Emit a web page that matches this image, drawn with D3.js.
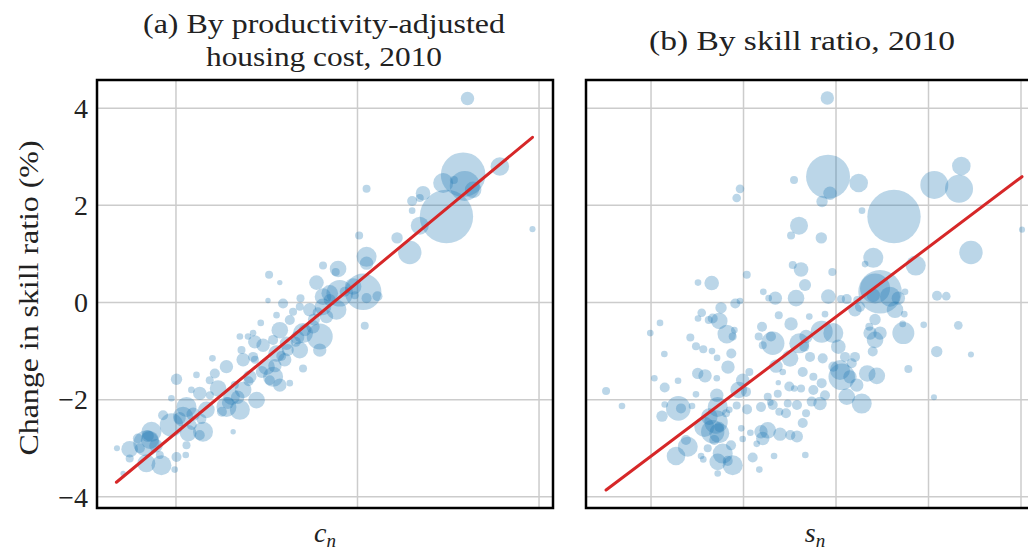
<!DOCTYPE html>
<html>
<head>
<meta charset="utf-8">
<script src="https://cdn.jsdelivr.net/npm/d3@7"></script>
<style>
  body { margin: 0; background: white; }
  svg { display: block; }
</style>
</head>
<body>
<svg id="chart" width="1028" height="552"></svg>
<script>
// [cost index c_n, change in skill ratio (%), population (m)]
const pointsA = [
  [-1.325,-3.00,0.24],[-1.255,-3.02,1.81],[-1.163,-2.90,4.44],[-1.144,-2.83,2.13],[-1.135,-2.66,2.63],
  [-1.163,-3.31,2.13],[-1.080,-3.35,2.63],[-1.291,-3.52,0.19],[-1.255,-3.21,0.42],[-1.071,-2.32,0.66],
  [-1.025,-1.97,0.29],[-0.997,-1.58,0.85],[-0.997,-3.18,0.66],[-0.946,-3.14,0.29],[-1.007,-3.44,0.29],
  [-1.025,-2.52,3.59],[-0.961,-2.35,2.63],[-0.942,-2.15,2.63],[-0.869,-2.73,0.66],[-0.851,-2.66,2.63],
  [-0.933,-2.69,1.81],[-0.942,-2.94,0.42],[-0.887,-1.49,0.29],[-0.915,-1.80,0.29],[-0.869,-1.87,1.18],
  [-0.832,-2.21,1.81],[-0.814,-1.60,0.42],[-0.786,-1.46,0.66],[-0.799,-1.15,0.29],[-0.768,-1.77,1.81],
  [-0.722,-1.32,1.18],[-0.722,-2.15,2.63],[-0.685,-2.66,0.19],[-0.694,-1.94,1.81],[-0.648,-2.21,2.63],
  [-0.630,-1.80,1.81],[-0.556,-2.01,1.81],[-0.593,-1.53,1.18],[-0.630,-1.18,1.18],[-0.639,-0.98,0.42],
  [-0.575,-1.12,0.66],[-0.603,-0.70,0.29],[-0.648,-0.70,0.29],[-0.566,-0.81,1.18],[-0.575,-0.63,0.29],
  [-0.533,-0.42,0.29],[-0.520,-0.88,1.18],[-0.501,-1.32,1.81],[-0.465,-1.53,2.63],[-0.428,-1.70,1.18],
  [-0.446,-1.05,1.81],[-0.401,-1.18,1.18],[-0.391,-0.84,1.18],[-0.465,-0.77,0.66],[-0.428,-0.57,1.81],
  [-0.446,-0.26,0.29],[-0.410,-0.02,0.66],[-0.373,-0.36,0.66],[-0.355,-0.19,0.42],[-0.318,-0.09,0.42],
  [-0.300,-0.63,2.63],[-0.300,-1.36,0.42],[-0.373,-1.66,0.29],[-0.318,-0.98,1.81],[-0.245,-0.50,1.18],
  [-0.263,-0.15,1.18],[-0.208,-0.70,4.44],[-0.208,-0.98,1.18],[-0.190,-0.09,1.81],[-0.171,-0.29,1.18],
  [0.050,2.34,0.42],[0.009,1.38,0.42],[0.050,0.94,2.63],[0.050,0.81,1.18],[-0.190,0.76,0.42],
  [-0.107,0.69,1.81],[-0.120,0.63,0.42],[-0.487,0.57,0.42],[-0.428,0.41,0.19],[-0.226,0.41,1.40],
  [0.031,0.22,8.79],[-0.098,0.19,4.64],[-0.153,0.19,1.81],[-0.024,0.33,1.81],[0.110,0.13,0.66],
  [0.050,0.09,0.66],[-0.015,0.15,0.42],[-0.190,0.12,1.81],[-0.314,0.09,0.42],[-0.493,0.04,0.19],
  [-0.116,-0.15,2.63],[0.040,-0.48,0.42],
  [0.606,4.20,1.18],[0.582,2.63,13.1],[0.591,2.40,5.91],[0.637,2.32,1.81],[0.472,2.46,2.63],
  [0.531,2.52,0.42],[0.784,2.80,2.27],[0.361,2.25,1.40],[0.301,2.09,0.66],[0.343,2.15,0.42],
  [0.301,1.89,0.29],[0.490,1.77,18.7],[0.343,1.58,2.13],[0.218,1.33,0.85],[0.288,1.03,3.59],
  [0.964,1.51,0.24],
  [-1.155,-2.75,0.95],[-1.199,-3.00,0.66],[-0.979,-2.38,0.95],[-0.913,-2.52,0.66],[-0.714,-2.07,0.95],
  [-0.747,-2.25,0.66],[-0.527,-1.43,0.95],[-0.483,-1.60,0.66],[-0.384,-0.98,0.95],[-0.340,-0.81,0.66],
  [-0.290,-0.57,0.95],[-0.219,-0.20,0.66],[-0.153,0.05,0.95],[-0.070,0.22,0.66],[-0.676,-1.70,0.42],
  [-0.813,-1.91,0.42],[-1.089,-3.14,0.42],[-0.565,-1.18,0.42],
  [-1.110,-2.95,1.18],[-0.905,-2.30,1.18],[-0.660,-1.95,1.18],[-0.455,-1.30,1.18],[-0.330,-0.72,1.18],
  [-0.240,-0.35,0.95],[-1.210,-2.80,0.66],[-0.860,-2.40,0.66],[-0.600,-1.62,0.66],[-0.420,-1.10,0.66]
];

// [skill index s_n, change in skill ratio (%), population (m)]
const pointsB = [
  [-2.486,-1.82,0.42],[-2.314,-2.13,0.29],[-2.008,-0.63,0.29],[-1.903,-0.42,0.29],[-1.856,-1.06,0.29],
  [-1.964,-1.56,0.29],[-1.852,-1.75,0.66],[-1.708,-1.61,0.29],[-1.852,-2.10,0.29],[-1.881,-2.34,0.85],
  [-1.705,-2.18,3.97],[-1.676,-2.18,0.66],[-1.557,-2.13,0.29],[-1.514,-1.89,0.29],[-1.730,-3.16,2.27],
  [-1.603,-2.97,2.63],[-1.622,-2.83,0.66],[-1.459,-3.16,0.29],[-1.435,-3.23,0.29],[-1.495,-1.46,0.85],
  [-1.416,-1.51,1.18],[-1.289,-1.56,0.29],[-1.575,-0.72,0.42],[-1.514,-0.90,0.42],[-1.435,-0.96,0.42],
  [-1.341,-1.00,0.29],[-1.286,-1.14,0.29],[-1.492,0.41,0.29],[-1.344,0.40,1.40],[-1.452,-0.21,0.49],
  [-1.492,-0.33,0.29],[-1.376,-0.36,0.42],[-1.333,-0.33,0.66],[-1.262,-0.38,1.81],[-1.243,-0.11,0.85],
  [-1.181,-0.65,2.27],[-1.117,-0.70,0.42],[-1.099,-0.57,0.29],[-1.132,-1.05,0.66],[-1.168,-1.33,1.18],
  [-1.089,-0.02,0.66],[-1.038,0.03,0.29],[-0.965,0.57,0.42],[-1.289,-1.91,1.18],[-1.279,-2.15,2.63],
  [-1.370,-2.35,1.81],[-1.297,-2.46,3.59],[-1.333,-2.66,3.59],[-1.262,-2.69,2.63],[-1.424,-2.56,2.63],
  [-1.262,-2.56,0.66],[-1.189,-2.28,0.42],[-1.154,-2.21,0.29],[-1.387,-3.00,0.42],[-1.316,-2.83,0.66],
  [-1.225,-3.11,2.63],[-1.135,-2.94,0.66],[-1.117,-3.35,2.63],[-1.171,-3.26,0.66],[-1.279,-3.52,0.29],
  [-1.279,-3.28,1.81],[-1.074,-2.12,0.42],[-1.052,-1.80,1.81],[-1.009,-1.60,1.18],[-0.937,-1.43,0.42],
  [-0.973,-1.84,0.66],[-0.962,-2.20,0.66],[-1.024,-2.59,0.29],[-1.009,-2.81,0.29],[-0.926,-2.68,0.29],
  [-0.901,-3.19,0.66],[-0.829,-3.44,0.29],[-0.857,-2.91,0.29],[-0.811,-2.66,1.18],[-0.792,-2.80,1.18],
  [-0.738,-2.63,1.81],[-0.670,-3.16,0.29],[-0.605,-2.71,1.18],[-0.494,-2.73,0.66],[-0.422,-2.76,0.95],
  [-0.332,-3.14,0.29],[-0.811,-2.15,0.66],[-0.738,-1.94,0.42],[-0.684,-2.11,0.66],[-0.630,-1.88,0.42],
  [-0.710,-2.06,0.29],[-0.613,-2.25,0.42],[-0.541,-2.28,0.66],[-0.522,-2.08,0.42],[-0.422,-2.11,0.66],
  [-0.360,-2.48,0.66],[-0.324,-2.28,0.42],[-0.505,-1.73,0.66],[-0.451,-1.77,0.29],[-0.378,-1.77,0.42],
  [-0.624,-1.65,0.19],[-0.649,-1.31,1.18],[-0.576,-1.43,0.29],[-0.497,-1.15,1.81],[-0.360,-1.43,0.66],
  [-0.684,-0.84,3.59],[-0.703,-0.70,0.66],[-0.792,-0.88,0.42],[-0.836,-0.70,0.42],[-0.800,-0.50,0.66],
  [-0.619,-0.26,0.42],[-0.486,-0.44,1.18],[-0.786,0.22,0.29],[-0.656,0.09,1.18],[-0.728,0.09,0.29],
  [-0.432,0.09,1.81],[-0.378,0.68,1.40],[-0.468,0.77,0.42],[-0.335,0.36,0.95],[-0.397,-0.84,2.63],
  [-0.324,-0.70,1.18],[-0.289,-0.29,0.29],[-0.343,-0.91,0.66],[-1.038,2.34,0.49],[-1.074,2.15,0.49],
  [-0.094,4.21,1.18],[-0.086,2.59,12.7],[-0.454,2.52,0.42],[0.245,2.46,2.27],[-0.065,2.25,1.18],
  [-0.151,2.08,0.85],[0.281,1.89,0.29],[0.627,1.77,18.7],[1.063,2.42,5.15],[1.330,2.34,5.15],
  [1.355,2.81,2.27],[2.011,1.50,0.24],[-0.400,1.58,2.13],[-0.486,1.38,0.42],[-0.159,1.33,0.85],
  [0.403,0.92,2.63],[0.314,0.79,0.29],[0.862,0.76,2.63],[1.459,1.03,3.59],[-0.040,0.63,0.42],
  [-0.083,0.12,1.40],[0.054,0.07,0.42],[0.116,0.07,0.66],[0.476,0.22,12.4],[0.422,0.29,5.91],
  [0.403,0.15,1.18],[0.584,0.12,2.63],[0.674,0.09,1.18],[0.746,0.22,0.29],[0.638,-0.15,1.81],
  [0.205,-0.15,1.18],[0.259,-0.09,0.66],[0.230,0.05,0.42],[1.092,0.14,0.66],[1.192,0.13,0.49],
  [0.738,-0.24,0.29],[0.422,-0.35,0.85],[0.360,-0.50,0.42],[0.368,-0.63,1.18],[0.476,-0.63,1.18],
  [0.422,-0.77,1.81],[0.728,-0.63,3.18],[0.721,-0.44,0.29],[0.948,-0.46,0.29],[1.322,-0.47,0.49],
  [1.089,-1.01,0.85],[1.459,-1.07,0.24],[0.782,-1.37,0.42],[1.059,-1.95,0.24],[0.397,-1.01,0.66],
  [0.338,-1.46,1.81],[0.441,-1.51,1.81],[-0.119,-0.24,0.29],[-0.155,-0.60,3.18],[-0.029,-0.63,2.63],
  [-0.281,-1.12,0.66],[-0.144,-1.15,0.66],[0.025,-0.91,1.40],[0.097,-1.12,0.66],[0.205,-1.12,0.66],
  [0.170,-1.25,0.66],[0.043,-1.39,2.63],[0.062,-1.53,4.64],[-0.029,-1.32,0.66],[0.151,-1.53,1.18],
  [0.224,-1.70,1.18],[0.116,-1.94,1.81],[0.278,-2.08,2.63],[-0.245,-1.80,0.66],[-0.119,-1.91,0.66],
  [-0.155,-1.66,0.66],[-0.245,-1.53,0.42],[-0.173,-2.08,1.18],[-0.263,-2.04,0.66]
];

// fitted lines, endpoints [x, y]
const fitA = [[-1.328,-3.70],[0.964,3.40]];
const fitB = [[-2.486,-3.86],[2.011,2.59]];

const yTicks = [-4, -2, 0, 2, 4];
const xTicksA = [-1, 0, 1];
const xTicksB = [-2, -1, 0, 1, 2];

const svg = d3.select("#chart");
const plotTop = 80, plotBottom = 508;
const serif = "'Liberation Serif', 'DejaVu Serif', serif";
const ink = "#222";

const y = d3.scaleLinear().domain([-4.23, 4.58]).range([plotBottom, plotTop]);
const r = d3.scaleSqrt().domain([0, 20]).range([0, 27.6]);

// title lines: [text, baseline y, width in px]
const panels = [
  {id: "a", pts: pointsA, fit: fitA, ticks: xTicksA,
   x: d3.scaleLinear().domain([-1.435, 1.077]).range([97, 553]),
   title: [["(a) By productivity-adjusted", 33, 362], ["housing cost, 2010", 66, 236]],
   titleX: 324, label: "c", labelX: 325},
  {id: "b", pts: pointsB, fit: fitB, ticks: xTicksB,
   x: d3.scaleLinear().domain([-2.703, 2.227]).range([586, 1042]),
   title: [["(b) By skill ratio, 2010", 50, 306]], titleX: 802, label: "s", labelX: 815}
];

panels.forEach(p => {
  const [x0, x1] = p.x.range();
  const g = svg.append("g");

  g.append("clipPath").attr("id", "clip-" + p.id)
    .append("rect").attr("x", x0).attr("y", plotTop).attr("width", x1 - x0).attr("height", plotBottom - plotTop);

  const grid = g.append("g").attr("stroke", "#cccccc").attr("stroke-width", 1.5);
  grid.selectAll(".gx").data(p.ticks).join("line")
    .attr("x1", d => p.x(d)).attr("x2", d => p.x(d))
    .attr("y1", plotTop).attr("y2", plotBottom);
  grid.selectAll(".gy").data(yTicks).join("line")
    .attr("x1", x0).attr("x2", x1)
    .attr("y1", d => y(d)).attr("y2", d => y(d));

  const plot = g.append("g").attr("clip-path", `url(#clip-${p.id})`);
  plot.selectAll("circle").data(p.pts).join("circle")
    .attr("cx", d => p.x(d[0]))
    .attr("cy", d => y(d[1]))
    .attr("r", d => r(d[2]))
    .attr("fill", "#1f77b4")
    .attr("fill-opacity", 0.3);

  const line = d3.line().x(d => p.x(d[0])).y(d => y(d[1]));
  plot.append("path").attr("d", line(p.fit))
    .attr("stroke", "#d62728").attr("stroke-width", 3)
    .attr("fill", "none").attr("stroke-linecap", "round");

  g.append("rect").attr("x", x0).attr("y", plotTop)
    .attr("width", x1 - x0).attr("height", plotBottom - plotTop)
    .attr("fill", "none").attr("stroke", "black").attr("stroke-width", 2.5);

  g.selectAll(".title").data(p.title).join("text")
    .attr("x", p.titleX).attr("y", d => d[1])
    .attr("text-anchor", "middle")
    .attr("textLength", d => d[2]).attr("lengthAdjust", "spacingAndGlyphs")
    .attr("font-family", serif).attr("font-size", 28).attr("fill", ink)
    .text(d => d[0]);

  const lab = g.append("text").attr("x", p.labelX).attr("y", 542)
    .attr("text-anchor", "middle").attr("font-family", serif)
    .attr("font-size", 28).attr("font-style", "italic").attr("fill", ink);
  lab.append("tspan").text(p.label);
  lab.append("tspan").attr("font-size", 19).attr("dy", 5).text("n");
});

svg.append("g").selectAll("text").data(yTicks).join("text")
  .attr("x", 88).attr("y", d => y(d))
  .attr("dy", "0.35em").attr("text-anchor", "end")
  .attr("font-family", serif).attr("font-size", 28).attr("fill", ink)
  .text(d => d < 0 ? "\u2212" + Math.abs(d) : d);

svg.append("text")
  .attr("transform", "translate(38,298) rotate(-90)")
  .attr("text-anchor", "middle").attr("font-family", serif)
  .attr("textLength", 315).attr("lengthAdjust", "spacingAndGlyphs")
  .attr("font-size", 28).attr("fill", ink)
  .text("Change in skill ratio (%)");
</script>
</body>
</html>
